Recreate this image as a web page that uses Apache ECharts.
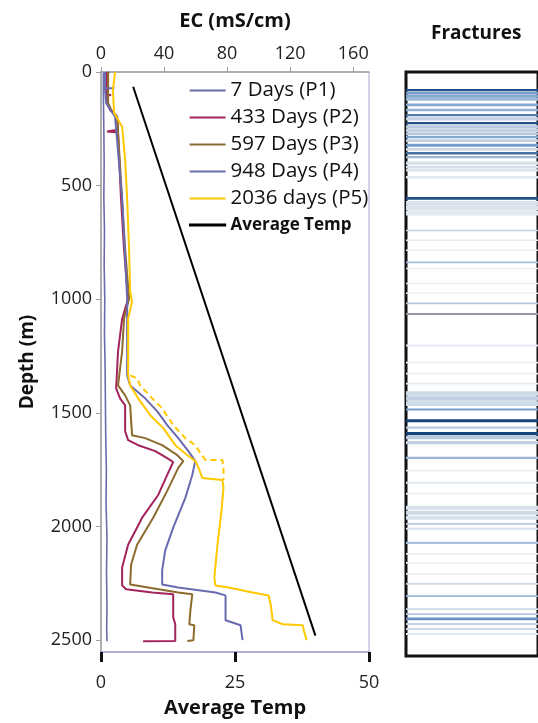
<!DOCTYPE html>
<html><head><meta charset="utf-8">
<script src="https://cdn.jsdelivr.net/npm/echarts@6/dist/echarts.min.js"></script>
<style>html,body{margin:0;padding:0;background:#fff}#c{width:538px;height:723px}</style>
</head><body><div id="c"></div>
<script>
// ---- axis ticks ----
const ecTicks = [0, 40, 80, 120, 160];
const depthTicks = [0, 500, 1000, 1500, 2000, 2500];
const tempTicks = [0, 25, 50];

// ---- legend names ----
const names = ['7 Days (P1)', '433 Days (P2)', '597 Days (P3)', '948 Days (P4)', '2036 days (P5)', 'Average Temp'];

// ---- EC profiles: [EC (mS/cm), depth (m)] ----
const p1 = [[5.5,0],[1.5,6],[1.5,100],[1.8,250],[2,400],[1.8,550],[2.2,700],[2,850],[2.4,1000],[2.2,1150],[2.6,1300],[2.8,1450],[3,1600],[3.4,1750],[3.2,1900],[3.8,2050],[3.5,2200],[3.8,2350],[3.6,2450],[3.8,2505]];
const p2 = [[3.8,0],[3.8,100],[6.4,101],[3.8,103],[3.8,136],[5.7,166],[10.2,197],[10.8,254],[3.8,262],[10.8,266],[12.7,560],[14.6,779],[17.2,998],[13.4,1086],[10.8,1230],[9.6,1392],[12.1,1436],[15.3,1467],[15.3,1580],[17.2,1620],[23.6,1642],[34.4,1668],[42,1699],[45.8,1716],[42,1773],[36.3,1861],[26.1,1961],[17.2,2080],[13.4,2180],[13.4,2259],[15.9,2276],[32.5,2290],[45.8,2298],[45.8,2399],[47.1,2430],[47.1,2504],[26.7,2505]];
const p3 = [[4.5,0],[4.5,136],[6.4,166],[10.2,197],[13.4,560],[15.3,779],[17.8,998],[14.6,1086],[13.4,1230],[10.8,1379],[15.3,1423],[18.5,1467],[19.7,1598],[28,1611],[38.8,1642],[48.4,1686],[52.2,1712],[49,1742],[42,1843],[33.1,1961],[22.9,2080],[19.1,2167],[18.5,2255],[29.9,2268],[49,2290],[57.9,2298],[56.7,2369],[56,2430],[59.2,2434],[58.6,2500],[54.8,2504]];
const p4 = [[2.5,0],[2.5,70],[8.5,71],[2.5,72],[3.2,136],[8.9,197],[13.4,560],[16.6,998],[16.6,1086],[16.6,1335],[18.5,1379],[28,1436],[35.7,1493],[42,1554],[49,1611],[55.4,1668],[59.8,1712],[57.9,1773],[53.5,1874],[45.8,2005],[40.7,2106],[38.8,2193],[38.8,2255],[49,2268],[72.6,2290],[79,2303],[79,2412],[88.5,2434],[89.8,2500]];
const p5 = [[8.9,0],[7.6,79],[8.3,180],[13.4,241],[15.3,385],[16.6,560],[17.8,779],[18.5,968],[19.7,1011],[17.2,1086],[17.2,1335],[18.5,1379],[23.6,1436],[31.2,1510],[39.5,1567],[47.1,1642],[54.8,1686],[59.8,1712],[61.1,1729],[64.3,1786],[77,1795],[77.7,1830],[76.4,1931],[73.9,2080],[71.9,2224],[72.6,2259],[80.9,2268],[96.1,2290],[106.3,2303],[107.6,2342],[108.9,2412],[115.2,2430],[128,2434],[128.6,2456],[130.5,2500]];
const p5b = [[18.5,1335],[22.9,1348],[24.8,1379],[32.5,1436],[38.8,1480],[45.8,1554],[53.5,1611],[59.8,1642],[61.8,1664],[66.2,1707],[77,1707],[77.7,1742],[77.7,1795]];
// ---- average temperature: [temp, depth] ----
const avgTemp = [[6,65],[40,2480]];

// ---- fractures ----
const fracDepth =     [79, 92, 106, 120, 144, 166, 188, 205, 223, 240, 255, 270, 285, 300, 320, 338, 355, 372, 398, 416, 430, 460, 552, 574, 595, 617, 692, 735, 779, 832, 858, 924, 967, 1011, 1195, 1270, 1318, 1362, 1405, 1427, 1449, 1475, 1524, 1554, 1580, 1598, 1620, 1686, 1742, 1795, 1843, 1904, 1926, 1948, 1975, 1996, 2058, 2106, 2145, 2193, 2237, 2290, 2347, 2369, 2390, 2412, 2434, 2456];
const fracIntensity = [0.95,0.6,0.55,0.45,0.55,0.5,0.75,0.3,0.95,0.35,0.3,0.35,0.55,0.3,0.6,0.25,0.8,0.45,0.2,0.2,0.2,0.15,0.95,0.2,0.18,0.15,0.3,0.12,0.12,0.4,0.12,0.1,0.1,0.35,0.12,0.1,0.1,0.12,0.25,0.3,0.25,0.6,1.0,0.35,1.0,0.35,0.3,0.45,0.12,0.15,0.1,0.2,0.25,0.2,0.35,0.2,0.4,0.1,0.1,0.1,0.25,0.45,0.25,0.35,0.65,0.3,0.25,0.15];
const fracThick =     [10, 12, 14, 12, 12, 10, 10, 14, 10, 14, 14, 12, 10, 12, 14, 12, 10, 10, 14, 12, 10, 10, 12, 20, 20, 20, 6, 6, 6, 8, 6, 6, 6, 8, 8, 8, 8, 8, 20, 20, 20, 8, 14, 10, 14, 14, 14, 10, 8, 8, 8, 18, 18, 18, 8, 8, 10, 8, 8, 8, 8, 8, 8, 8, 12, 8, 8, 8];
const boundaryDepth = [1055];

const FONT = 'Open Sans';
const DMAX = 2552;

function fracColor(v) {
  const stops = [[0, [255,255,255]], [0.25, [205,218,230]], [0.6, [118,158,205]], [1, [22,68,124]]];
  let i = 0;
  while (i < stops.length - 2 && v > stops[i + 1][0]) i++;
  const a = stops[i], b = stops[i + 1];
  const t = Math.max(0, Math.min(1, (v - a[0]) / (b[0] - a[0])));
  const c = a[1].map((x, k) => Math.round(x + (b[1][k] - x) * t));
  return 'rgb(' + c.join(',') + ')';
}

const fracData = fracDepth.map((d, i) => [0.5, d, fracIntensity[i], fracThick[i]]);

const chart = echarts.init(document.getElementById('c'));
const lineS = (name, data, color, width, extra) => Object.assign({
  name, type: 'line', data, xAxisIndex: 0, yAxisIndex: 0, showSymbol: false, symbol: 'none',
  lineStyle: { color, width }, itemStyle: { color }, z: 3, animation: false
}, extra || {});

chart.setOption({
  animation: false,
  title: { text: 'Fractures', left: 426, top: 19, textStyle: { fontFamily: FONT, fontWeight: 'bold', fontSize: 19, color: '#111' } },
  grid: [
    { left: 101, top: 72, width: 268, height: 583, show: true, borderColor: '#a8a8d0', borderWidth: 1, backgroundColor: '#fff' },
    { left: 406, top: 72, width: 220, height: 584, show: true, borderColor: '#111', borderWidth: 3, backgroundColor: '#fff' }
  ],
  legend: {
    orient: 'vertical', left: 184, top: 75, itemWidth: 36, itemHeight: 2, itemGap: 6, icon: 'rect',
    textStyle: { fontFamily: FONT, fontSize: 20.5, color: '#111', lineHeight: 20 },
    data: names.slice(0, 5).map(n => ({ name: n })).concat([{ name: names[5], itemStyle: { borderWidth: 1.2, borderColor: '#000' }, textStyle: { fontWeight: 'bold', fontSize: 17, fontFamily: FONT, color: '#111' } }])
  },
  xAxis: [
    { type: 'value', gridIndex: 0, position: 'top', min: 0, max: 170,
      name: 'EC (mS/cm)', nameLocation: 'middle', nameGap: 41,
      nameTextStyle: { fontFamily: FONT, fontWeight: 'bold', fontSize: 20, color: '#111' },
      axisLine: { show: true, lineStyle: { color: '#a0a0a0', width: 1.5 } },
      axisTick: { show: true, customValues: ecTicks, length: 5, lineStyle: { color: '#a0a0a0' } },
      axisLabel: { customValues: ecTicks, fontFamily: FONT, fontSize: 18, color: '#222', margin: 9 },
      splitLine: { show: false } },
    { type: 'value', gridIndex: 0, position: 'bottom', min: 0, max: 50, interval: 25,
      name: 'Average Temp', nameLocation: 'middle', nameGap: 46,
      nameTextStyle: { fontFamily: FONT, fontWeight: 'bold', fontSize: 20, color: '#111' },
      axisLine: { show: true, lineStyle: { color: '#a8a8d0', width: 1.5 } },
      axisTick: { show: true, length: 10, lineStyle: { color: '#111', width: 3 } },
      axisLabel: { fontFamily: FONT, fontSize: 18, color: '#222', margin: 22 },
      splitLine: { show: false } },
    { type: 'value', gridIndex: 1, min: 0, max: 1, show: false }
  ],
  yAxis: [
    { type: 'value', gridIndex: 0, inverse: true, min: 0, max: DMAX,
      name: 'Depth (m)', nameLocation: 'middle', nameGap: 64, nameRotate: 90,
      nameTextStyle: { fontFamily: FONT, fontWeight: 'bold', fontSize: 19, color: '#111' },
      axisLine: { show: true, lineStyle: { color: '#a0a0a0', width: 1.5 } },
      axisTick: { show: true, customValues: depthTicks, length: 5, lineStyle: { color: '#a0a0a0' } },
      axisLabel: { customValues: depthTicks, formatter: v => String(v), fontFamily: FONT, fontSize: 18, color: '#222', margin: 9 },
      splitLine: { show: false } },
    { type: 'value', gridIndex: 1, inverse: true, min: 0, max: DMAX, show: false }
  ],
  series: [
    lineS(names[0], p1, '#6a6aae', 1.6),
    lineS(names[1], p2, '#a3245a', 2),
    lineS(names[2], p3, '#8c6b2f', 2),
    lineS(names[3], p4, '#6a6ab0', 2),
    lineS(names[4], p5, '#ffc800', 2),
    lineS('P5 dashed', p5b, '#ffc800', 2, { lineStyle: { color: '#ffc800', width: 2, type: [6, 4] } }),
    lineS(names[5], avgTemp, '#000', 2, { xAxisIndex: 1 }),
    { type: 'custom', name: 'Fractures', xAxisIndex: 2, yAxisIndex: 1, data: fracData, encode: { x: 0, y: 1 }, clip: true,
      renderItem: function (params, api) {
        const d = api.value(1), t = api.value(3), v = api.value(2);
        const a = api.coord([0, d - t / 2]);
        const b = api.coord([1, d + t / 2]);
        return { type: 'rect', shape: { x: a[0], y: Math.min(a[1], b[1]), width: b[0] - a[0], height: Math.max(1.5, Math.abs(b[1] - a[1])) },
          style: { fill: fracColor(v) } };
      },
      markLine: { silent: true, symbol: 'none', label: { show: false }, lineStyle: { color: '#9a98a8', width: 2, type: 'solid' },
        data: boundaryDepth.map(d => ({ yAxis: d })) }
    }
  ]
});
</script>
</body></html>
